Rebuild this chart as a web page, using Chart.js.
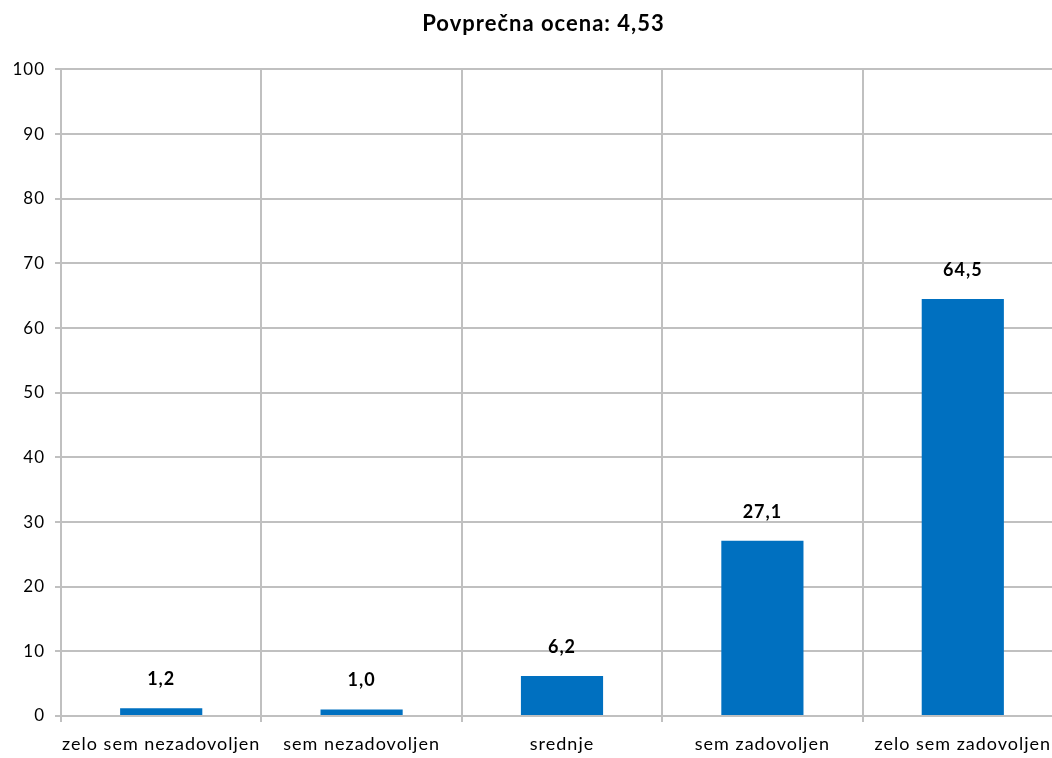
<!DOCTYPE html>
<html>
<head>
<meta charset="utf-8">
<script src="https://cdn.jsdelivr.net/npm/chart.js@4.4.0/dist/chart.umd.min.js"></script>
<style>
  html, body { margin: 0; padding: 0; background: #fff; overflow: hidden; }
  #wrap { width: 1063px; height: 758px; }
</style>
</head>
<body>
<div id="wrap"><canvas id="c"></canvas></div>
<script>
const CATEGORIES = ['zelo sem nezadovoljen', 'sem nezadovoljen', 'srednje', 'sem zadovoljen', 'zelo sem zadovoljen'];
const VALUES = [1.2, 1.0, 6.2, 27.1, 64.5];
const TITLE = 'Povprečna ocena: 4,53';
const Y_MAX = 100;
const Y_STEP = 10;

const FONT = "Lato, 'Open Sans', 'Liberation Sans', sans-serif";
const GRID = '#c0c0c0';

// wider letter spacing, like the original rendering; title sits a bit right of centre
const tweaks = {
    id: 'tweaks',
    afterLayout(chart) { if (chart.titleBlock) chart.titleBlock.left += 24; },
    beforeDraw(chart) { chart.ctx.letterSpacing = '1px'; }
};

// labels on top of the bars, comma as decimal mark
const barLabels = {
    id: 'barLabels',
    afterDatasetsDraw(chart) {
        const ctx = chart.ctx;
        const meta = chart.getDatasetMeta(0);
        ctx.save();
        ctx.letterSpacing = '1px';
        ctx.font = `bold 18px ${FONT}`;
        ctx.fillStyle = '#000';
        ctx.textAlign = 'center';
        ctx.textBaseline = 'middle';
        meta.data.forEach((bar, i) => {
            ctx.fillText(VALUES[i].toFixed(1).replace('.', ','), bar.x, bar.y - 29);
        });
        ctx.restore();
    }
};

new Chart(document.getElementById('c'), {
    type: 'bar',
    data: {
        labels: CATEGORIES,
        datasets: [{
            data: VALUES,
            backgroundColor: '#0070c0',
            barPercentage: 0.41,
            categoryPercentage: 1
        }]
    },
    options: {
        responsive: true,
        maintainAspectRatio: false,
        animation: false,
        layout: { padding: 0 },
        plugins: {
            legend: { display: false },
            tooltip: { enabled: false },
            title: {
                display: true,
                text: TITLE,
                color: '#000',
                font: { family: FONT, size: 22, weight: 'bold' },
                padding: { top: 11, bottom: 32 }
            }
        },
        scales: {
            x: {
                grid: { color: GRID, lineWidth: 2, offset: true, tickLength: 6 },
                border: { color: GRID, width: 2 },
                ticks: { color: '#000', font: { family: FONT, size: 18 }, maxRotation: 0, padding: 11 },
                afterFit: s => { s.height = 42; }
            },
            y: {
                min: 0, max: Y_MAX,
                grid: { color: GRID, lineWidth: 2, tickLength: 6 },
                border: { color: GRID, width: 2 },
                ticks: { stepSize: Y_STEP, color: '#000', font: { family: FONT, size: 17 }, padding: 10 },
                afterFit: s => { s.width = 61; }
            }
        }
    },
    plugins: [tweaks, barLabels]
});
</script>
</body>
</html>
